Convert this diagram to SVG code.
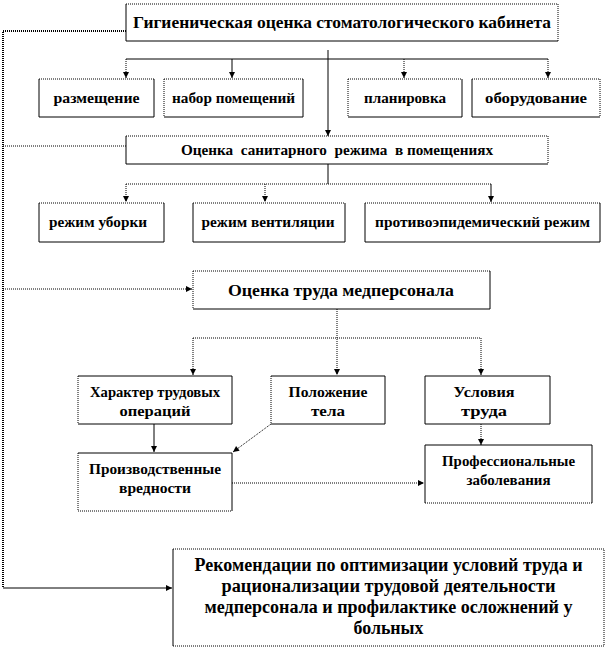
<svg xmlns="http://www.w3.org/2000/svg" width="609" height="649" viewBox="0 0 609 649">
<style>
  .bg{fill:#fff;stroke:none}
  .s{fill:none;stroke:#000;stroke-width:1}
  .d{fill:none;stroke:#000;stroke-width:1;stroke-dasharray:1 1}
  .dl{fill:none;stroke:#000;stroke-width:1;stroke-dasharray:1 1}
  .dt{fill:none;stroke:#000;stroke-width:2;stroke-dasharray:1 1}
  text{font-family:'Liberation Serif','DejaVu Serif',serif;font-weight:700;fill:#000;text-anchor:middle}
  .t17{font-size:17px}
  .t14{font-size:14px}
  .t18{font-size:18px}
</style>
<defs>
  <marker id="ah" markerUnits="userSpaceOnUse" markerWidth="8" markerHeight="8" refX="7" refY="4" orient="auto">
    <path d="M1,1 L7,4 L1,7 z" fill="#000"/>
  </marker>
</defs>

<g id="connectors">
  <path class="dt" d="M126,31 H3 V588"/>
  <path class="dl" d="M3,146 H126"/>
  <path class="dl" d="M3,289 H192" marker-end="url(#ah)"/>
  <path class="s" d="M3,588 H172" marker-end="url(#ah)"/>
  <path class="s" d="M126,59 H548"/>
  <path class="s" d="M328,50 V136" marker-end="url(#ah)"/>
  <path class="dl" d="M126,59 V78" marker-end="url(#ah)"/>
  <path class="s" d="M232,59 V78" marker-end="url(#ah)"/>
  <path class="dl" d="M404,59 V78" marker-end="url(#ah)"/>
  <path class="dl" d="M548,59 V78" marker-end="url(#ah)"/>
  <path class="s" d="M328,164 V184"/>
  <path class="dl" d="M126,184 H491"/>
  <path class="dl" d="M126,184 V202" marker-end="url(#ah)"/>
  <path class="dl" d="M265,184 V202" marker-end="url(#ah)"/>
  <path class="s" d="M491,184 V202" marker-end="url(#ah)"/>
  <path class="dl" d="M337,309 V375" marker-end="url(#ah)"/>
  <path class="dl" d="M193,338 H481"/>
  <path class="dl" d="M193,338 V375" marker-end="url(#ah)"/>
  <path class="dl" d="M481,338 V375" marker-end="url(#ah)"/>
  <path class="s" d="M154,424 V452" marker-end="url(#ah)"/>
  <path class="dl" d="M271,424 L233,452" marker-end="url(#ah)"/>
  <path class="dl" d="M481,424 V445" marker-end="url(#ah)"/>
  <path class="dl" d="M232,483 H424" marker-end="url(#ah)"/>
</g>

<g id="n-title">
  <rect class="bg" x="126" y="4" width="432" height="37"/>
  <path class="s" d="M126,4 V41 H558"/>
  <path class="d" d="M126,4 H558 V41"/>
  <text class="t17" x="342" y="28" textLength="418" lengthAdjust="spacingAndGlyphs">Гигиеническая оценка стоматологического кабинета</text>
</g>

<g id="n-razm">
  <rect class="bg" x="39" y="79" width="115" height="38"/>
  <path class="s" d="M39,79 V117 H154 V79"/>
  <path class="d" d="M39,79 H154"/>
  <text class="t14" x="96.5" y="103" textLength="86" lengthAdjust="spacingAndGlyphs">размещение</text>
</g>
<g id="n-nabor">
  <rect class="bg" x="164" y="79" width="139" height="38"/>
  <path class="s" d="M164,117 H303 V79"/>
  <path class="d" d="M164,79 H303 M164,79 V117"/>
  <text class="t14" x="233.5" y="103" textLength="123" lengthAdjust="spacingAndGlyphs">набор помещений</text>
</g>
<g id="n-plan">
  <rect class="bg" x="348" y="79" width="114" height="38"/>
  <path class="s" d="M348,117 H462 V79"/>
  <path class="d" d="M348,79 H462 M348,79 V117"/>
  <text class="t14" x="405" y="103" textLength="82" lengthAdjust="spacingAndGlyphs">планировка</text>
</g>
<g id="n-obor">
  <rect class="bg" x="472" y="79" width="128" height="38"/>
  <path class="s" d="M472,79 V117 H600"/>
  <path class="d" d="M472,79 H600 V117"/>
  <text class="t14" x="536" y="103" textLength="102" lengthAdjust="spacingAndGlyphs">оборудование</text>
</g>

<g id="n-sanit">
  <rect class="bg" x="126" y="136" width="422" height="28"/>
  <path class="s" d="M126,136 V164 H548"/>
  <path class="d" d="M126,136 H548 V164"/>
  <text class="t14" x="337" y="155" textLength="312" lengthAdjust="spacingAndGlyphs" xml:space="preserve">Оценка  санитарного  режима  в помещениях</text>
</g>

<g id="n-uborka">
  <rect class="bg" x="39" y="203" width="125" height="39"/>
  <path class="s" d="M39,203 V242 H164 V203"/>
  <path class="d" d="M39,203 H164"/>
  <text class="t14" x="98" y="227" textLength="98" lengthAdjust="spacingAndGlyphs">режим уборки</text>
</g>
<g id="n-vent">
  <rect class="bg" x="193" y="203" width="152" height="39"/>
  <path class="s" d="M193,203 V242 H345 V203"/>
  <path class="d" d="M193,203 H345"/>
  <text class="t14" x="268" y="227" textLength="133" lengthAdjust="spacingAndGlyphs">режим вентиляции</text>
</g>
<g id="n-protiv">
  <rect class="bg" x="365" y="203" width="235" height="39"/>
  <path class="s" d="M365,203 V242 H600 V203"/>
  <path class="d" d="M365,203 H600"/>
  <text class="t14" x="482.5" y="227" textLength="215" lengthAdjust="spacingAndGlyphs">противоэпидемический режим</text>
</g>

<g id="n-trud">
  <rect class="bg" x="193" y="271" width="297" height="38"/>
  <path class="s" d="M193,309 H490 V271"/>
  <path class="d" d="M193,271 H490 M193,271 V309"/>
  <text class="t17" x="341" y="296" textLength="226" lengthAdjust="spacingAndGlyphs">Оценка труда медперсонала</text>
</g>

<g id="n-harakter">
  <rect class="bg" x="78" y="376" width="154" height="48"/>
  <path class="s" d="M78,376 H232 V424 H78"/>
  <path class="d" d="M78,376 V424"/>
  <text class="t14" x="155" y="397" textLength="130" lengthAdjust="spacingAndGlyphs">Характер трудовых</text>
  <text class="t14" x="155" y="416" textLength="71" lengthAdjust="spacingAndGlyphs">операций</text>
</g>
<g id="n-polozh">
  <rect class="bg" x="271" y="376" width="114" height="48"/>
  <path class="s" d="M271,376 H385 V424 H271"/>
  <path class="d" d="M271,376 V424"/>
  <text class="t14" x="328" y="397" textLength="79" lengthAdjust="spacingAndGlyphs">Положение</text>
  <text class="t14" x="328" y="416" textLength="34" lengthAdjust="spacingAndGlyphs">тела</text>
</g>
<g id="n-uslov">
  <rect class="bg" x="425" y="376" width="125" height="48"/>
  <path class="s" d="M425,376 H550 V424 H425 V376"/>
  <text class="t14" x="484" y="397" textLength="61" lengthAdjust="spacingAndGlyphs">Условия</text>
  <text class="t14" x="484" y="416" textLength="46" lengthAdjust="spacingAndGlyphs">труда</text>
</g>

<g id="n-proizv">
  <rect class="bg" x="78" y="453" width="154" height="58"/>
  <path class="s" d="M78,453 H232 V511"/>
  <path class="d" d="M78,453 V511 H232"/>
  <text class="t14" x="155" y="474" textLength="132" lengthAdjust="spacingAndGlyphs">Производственные</text>
  <text class="t14" x="155" y="493" textLength="72" lengthAdjust="spacingAndGlyphs">вредности</text>
</g>
<g id="n-prof">
  <rect class="bg" x="425" y="445" width="167" height="58"/>
  <path class="s" d="M425,445 H592 V503 M425,445 V503"/>
  <path class="d" d="M425,503 H592"/>
  <text class="t14" x="508.5" y="466" textLength="133" lengthAdjust="spacingAndGlyphs">Профессиональные</text>
  <text class="t14" x="508.5" y="485" textLength="84" lengthAdjust="spacingAndGlyphs">заболевания</text>
</g>

<g id="n-rekom">
  <rect class="bg" x="173" y="549" width="431" height="97"/>
  <path class="s" d="M173,549 V646"/>
  <path class="d" d="M173,549 H604 V646 H173"/>
  <text class="t18" x="388.5" y="571" textLength="388" lengthAdjust="spacingAndGlyphs">Рекомендации по оптимизации условий труда и</text>
  <text class="t18" x="388.5" y="592" textLength="334" lengthAdjust="spacingAndGlyphs">рационализации трудовой деятельности</text>
  <text class="t18" x="388.5" y="613" textLength="368" lengthAdjust="spacingAndGlyphs">медперсонала и профилактике осложнений у</text>
  <text class="t18" x="388.5" y="634" textLength="70" lengthAdjust="spacingAndGlyphs">больных</text>
</g>
</svg>
